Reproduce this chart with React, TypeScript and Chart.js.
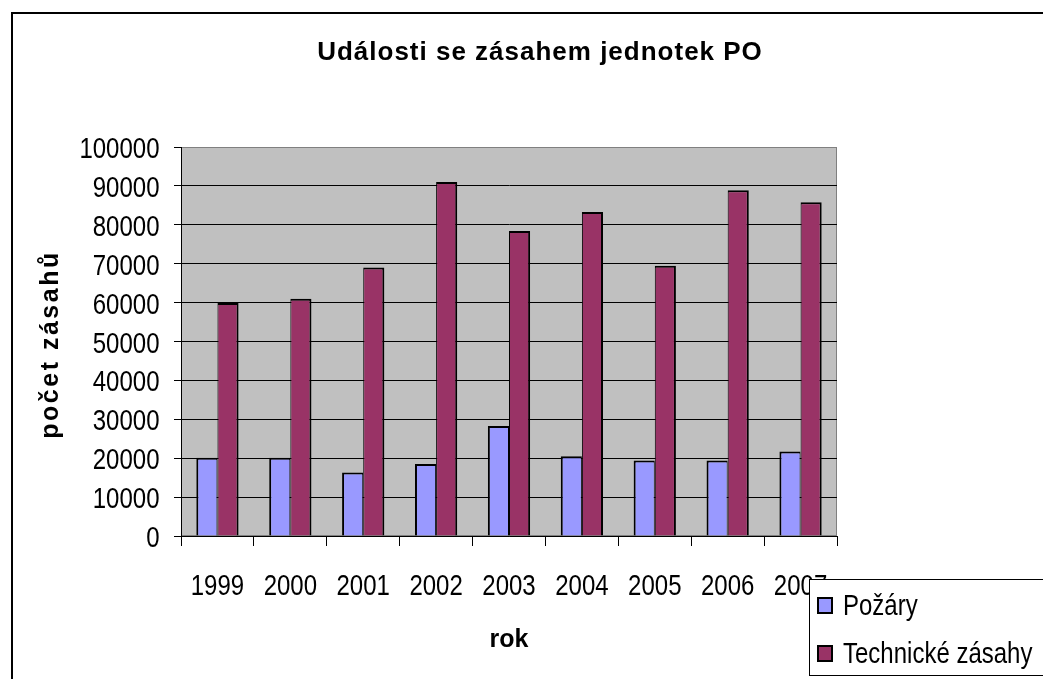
import React, { useEffect, useRef } from 'react';
import { Chart, registerables } from 'chart.js';

Chart.register(...registerables);

const years = ['1999', '2000', '2001', '2002', '2003', '2004', '2005', '2006', '2007'];
const pozary = [20100, 20100, 16300, 18500, 28300, 20500, 19400, 19400, 21700];
const technicke = [59900, 61000, 69000, 91000, 78400, 83300, 69500, 88900, 85800];
const seriesNames = ['Požáry', 'Technické zásahy'];
const seriesColors = ['#9999FF', '#993366'];
const yMin = 0;
const yMax = 100000;
const yStep = 10000;
const chartTitle = 'Události se zásahem jednotek PO';
const xTitle = 'rok';
const yTitle = 'počet zásahů';

const W = 1043;
const H = 679;
const LABEL_FONT = '24px "Liberation Sans", Arial';
const STRETCH = 1.2;

function stretchedText(ctx: CanvasRenderingContext2D, text: string, x: number, baseline: number, align: CanvasTextAlign) {
  ctx.save();
  ctx.translate(x, baseline);
  ctx.scale(1, STRETCH);
  ctx.textAlign = align;
  ctx.textBaseline = 'alphabetic';
  ctx.fillText(text, 0, 0);
  ctx.restore();
}

export default function App() {
  const ref = useRef<HTMLCanvasElement>(null);

  useEffect(() => {
    const decor = {
      id: 'decor',
      beforeDraw(chart: any) {
        const { ctx, chartArea: a } = chart;
        ctx.save();
        ctx.fillStyle = '#fff';
        ctx.fillRect(0, 0, W, H);
        ctx.strokeStyle = '#000';
        ctx.lineWidth = 2;
        ctx.strokeRect(12, 13, W + 100, H + 100);
        ctx.fillStyle = '#C0C0C0';
        ctx.fillRect(a.left, a.top, a.right - a.left, a.bottom - a.top);
        ctx.strokeStyle = '#808080';
        ctx.lineWidth = 1;
        ctx.strokeRect(a.left + 0.5, a.top + 0.5, a.right - a.left - 1, a.bottom - a.top - 1);
        ctx.restore();
      },
      afterDraw(chart: any) {
        const { ctx, chartArea: a } = chart;
        // tick labels, placed from the library's scales
        ctx.save();
        ctx.fillStyle = '#000';
        ctx.font = LABEL_FONT;
        const ys = chart.scales.y;
        ys.ticks.forEach((t: any, i: number) => {
          const py = ys.getPixelForTick(i);
          stretchedText(ctx, String(t.value), 159.5, py + 11, 'right');
        });
        const xs = chart.scales.x;
        xs.ticks.forEach((t: any, i: number) => {
          const px = xs.getPixelForTick(i);
          stretchedText(ctx, String(chart.data.labels[t.value]), px, 594.5, 'center');
        });
        ctx.restore();
        // chart title
        ctx.save();
        ctx.fillStyle = '#000';
        ctx.font = 'bold 26px "Liberation Sans", Arial';
        (ctx as any).letterSpacing = '1px';
        ctx.textAlign = 'center';
        ctx.textBaseline = 'alphabetic';
        ctx.fillText(chartTitle, 540, 59.5);
        ctx.restore();
        // y axis title
        ctx.save();
        ctx.fillStyle = '#000';
        ctx.font = 'bold 25px "Liberation Sans", Arial';
        (ctx as any).letterSpacing = '2.5px';
        ctx.translate(57.5, (a.top + a.bottom) / 2 + 3);
        ctx.rotate(-Math.PI / 2);
        ctx.textAlign = 'center';
        ctx.textBaseline = 'alphabetic';
        ctx.fillText(yTitle, 0, 0);
        ctx.restore();
        // legend
        ctx.save();
        const lx = 809;
        const ly = 579;
        ctx.fillStyle = '#fff';
        ctx.fillRect(lx, ly, W, 96);
        ctx.strokeStyle = '#000';
        ctx.lineWidth = 1;
        ctx.strokeRect(lx + 0.5, ly + 0.5, W, 96);
        ctx.font = LABEL_FONT;
        chart.data.datasets.forEach((ds: any, i: number) => {
          const base = 615 + i * 48;
          ctx.fillStyle = ds.backgroundColor;
          ctx.fillRect(818, base - 17, 14, 15);
          ctx.strokeStyle = '#000';
          ctx.lineWidth = 2;
          ctx.strokeRect(818, base - 17, 14, 15);
          ctx.fillStyle = '#000';
          stretchedText(ctx, ds.label, 843, base, 'left');
        });
        ctx.restore();
      },
    };

    const chart = new Chart(ref.current as HTMLCanvasElement, {
      type: 'bar',
      data: {
        labels: years,
        datasets: [
          {
            label: seriesNames[0],
            data: pozary,
            backgroundColor: seriesColors[0],
            borderColor: '#000',
            borderWidth: { left: 2, top: 2, right: 1, bottom: 0 },
            borderSkipped: false,
            categoryPercentage: 0.58,
            barPercentage: 1,
          },
          {
            label: seriesNames[1],
            data: technicke,
            backgroundColor: seriesColors[1],
            borderColor: '#000',
            borderWidth: { left: 1, top: 2, right: 2, bottom: 0 },
            borderSkipped: false,
            categoryPercentage: 0.58,
            barPercentage: 1,
          },
        ],
      },
      options: {
        responsive: false,
        animation: false,
        devicePixelRatio: 1,
        events: [],
        layout: { padding: { top: 147, right: 206, bottom: 0, left: 0 } },
        plugins: {
          legend: { display: false },
          title: { display: false },
          tooltip: { enabled: false },
        },
        scales: {
          x: {
            grid: {
              display: true,
              drawOnChartArea: false,
              drawTicks: true,
              tickLength: 10,
              color: '#000',
              offset: true,
            },
            border: { color: '#000', width: 1 },
            ticks: {
              display: false,
              autoSkip: false,
              maxRotation: 0,
              minRotation: 0,
            },
            title: {
              display: true,
              text: xTitle,
              color: '#000',
              font: { family: '"Liberation Sans", Arial', size: 25, weight: 'bold' },
              padding: { top: 0, bottom: 24 },
            },
            afterFit(scale: any) {
              scale.height = 143;
            },
          },
          y: {
            min: yMin,
            max: yMax,
            grid: {
              color: (c: any) => (c.tick && c.tick.value === yMax ? '#808080' : '#000'),
              tickColor: '#000',
              lineWidth: 1,
              tickLength: 7,
            },
            border: { color: '#000', width: 1 },
            ticks: {
              display: false,
              stepSize: yStep,
              autoSkip: false,
            },
            afterFit(scale: any) {
              scale.width = 181;
            },
          },
        },
      },
      plugins: [decor],
    } as any);

    return () => chart.destroy();
  }, []);

  return (
    <div style={{ position: 'fixed', left: 0, top: 0, width: W, height: H, overflow: 'hidden', background: '#fff' }}>
      <canvas ref={ref} width={W} height={H} style={{ display: 'block', width: W, height: H }} />
    </div>
  );
}
